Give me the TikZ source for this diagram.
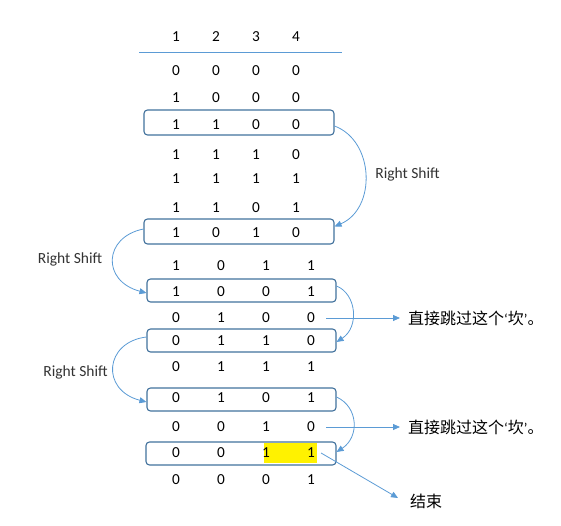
\documentclass[tikz,border=0pt]{standalone}
\usepackage{fontspec}
\usepackage{xcolor}
\usepackage{tikz}
\usetikzlibrary{arrows.meta}
\setmainfont{Carlito}
\newfontfamily\cjk{Noto Sans CJK SC}

\definecolor{boxblue}{HTML}{41719C}
\definecolor{linkblue}{HTML}{5B9BD5}

\tikzset{
    bit/.style={font=\fontsize{15.3}{17}\selectfont, inner sep=0pt},
    note/.style={font=\fontsize{15.5}{17}\selectfont, text=black!80, inner sep=0pt},
    cjknote/.style={font=\cjk\fontsize{16}{18}\selectfont, inner sep=0pt, anchor=west},
    regbox/.style={draw=boxblue, line width=1.1pt, rounded corners=3.5pt, minimum width=189pt, minimum height=23pt},
    shiftarrow/.style={draw=linkblue, line width=0.8pt, -{Triangle[length=7pt,width=6pt]}},
}
\newcommand{\kanquote}[1]{{\rmfamily\fontsize{14.7}{17}\selectfont #1}}

\begin{document}
\begin{tikzpicture}[x=1pt, y=-1pt]
        \useasboundingbox (0,0) rectangle (561,526);

        % registers that get shifted
        \node[regbox, minimum width=190pt, minimum height=25pt] (box1) at (239,122.5) {};
        \node[regbox, minimum width=190pt, minimum height=25pt] (box2) at (239,231.5) {};
        \node[regbox] (box3) at (241.5,290.5) {};
        \node[regbox] (box4) at (241.5,340.5) {};
        \node[regbox] (box5) at (241.5,399.5) {};
        \node[regbox, minimum width=190pt] (box6) at (241,453.5) {};

        \fill[yellow] (264,443) rectangle (317,463); % last two bits

        % rows: y / column step / bits
        \foreach \y/\dx/\a/\b/\c/\d [count=\r from 0] in {
            37/40/1/2/3/4, 71/40/0/0/0/0, 98/40/1/0/0/0, 125/40/1/1/0/0,
            155/40/1/1/1/0, 179/40/1/1/1/1, 208/40/1/1/0/1, 233/40/1/0/1/0,
            266/45/1/0/1/1, 292/45/1/0/0/1, 318/45/0/1/0/0, 341/45/0/1/1/0,
            367/45/0/1/1/1, 398/45/0/1/0/1, 427/45/0/0/1/0, 453/45/0/0/1/1,
            480/45/0/0/0/1}
            \foreach \v [count=\k] in {\a,\b,\c,\d}
                \node[bit] (d\r-\k) at ({176+(\k-1)*\dx},\y) {\v};

        \draw[linkblue, line width=0.8pt] (139,52) -- (342,52);

        \node[note] (shift1) at (407.5,174) {Right Shift};
        \node[note] (shift2) at (70,259) {Right Shift};
        \node[note] (shift3) at (75.5,372) {Right Shift};
        \node[cjknote] (jump1) at (408,318) {直接跳过这个\kanquote{‘}坎\kanquote{’}。};
        \node[cjknote] (jump2) at (408,427) {直接跳过这个\kanquote{‘}坎\kanquote{’}。};
        \node[cjknote] (finish) at (410,501) {结束};

        \draw[shiftarrow] ([yshift=-3.5pt]box1.east) .. controls +(40,15) and +(42,-18) .. ([yshift=5pt]box2.east);
        \draw[shiftarrow] ([yshift=2.5pt]box2.west) .. controls +(-40,8) and +(-45,-12) .. ([yshift=-2.5pt]box3.west);
        \draw[shiftarrow] ([yshift=4.5pt]box3.east) .. controls +(20,8) and +(23,-15) .. ([yshift=-1.5pt]box4.east);
        \draw[shiftarrow] ([yshift=3.5pt]box4.west) .. controls +(-42,5) and +(-46,-12) .. ([yshift=-2.5pt]box5.west);
        \draw[shiftarrow] ([yshift=2.5pt]box5.east) .. controls +(22,10) and +(23,-15) .. ([yshift=1.5pt]box6.east);

        \draw[shiftarrow] ([xshift=11pt]d10-4.east) -- ([xshift=-8pt]jump1.west);
        \draw[shiftarrow] ([xshift=11pt]d14-4.east) -- ([xshift=-8pt]jump2.west);
        \draw[shiftarrow] ([xshift=6pt]d15-4.east) -- ([xshift=-12pt,yshift=3pt]finish.west);
    \end{tikzpicture}
\end{document}
